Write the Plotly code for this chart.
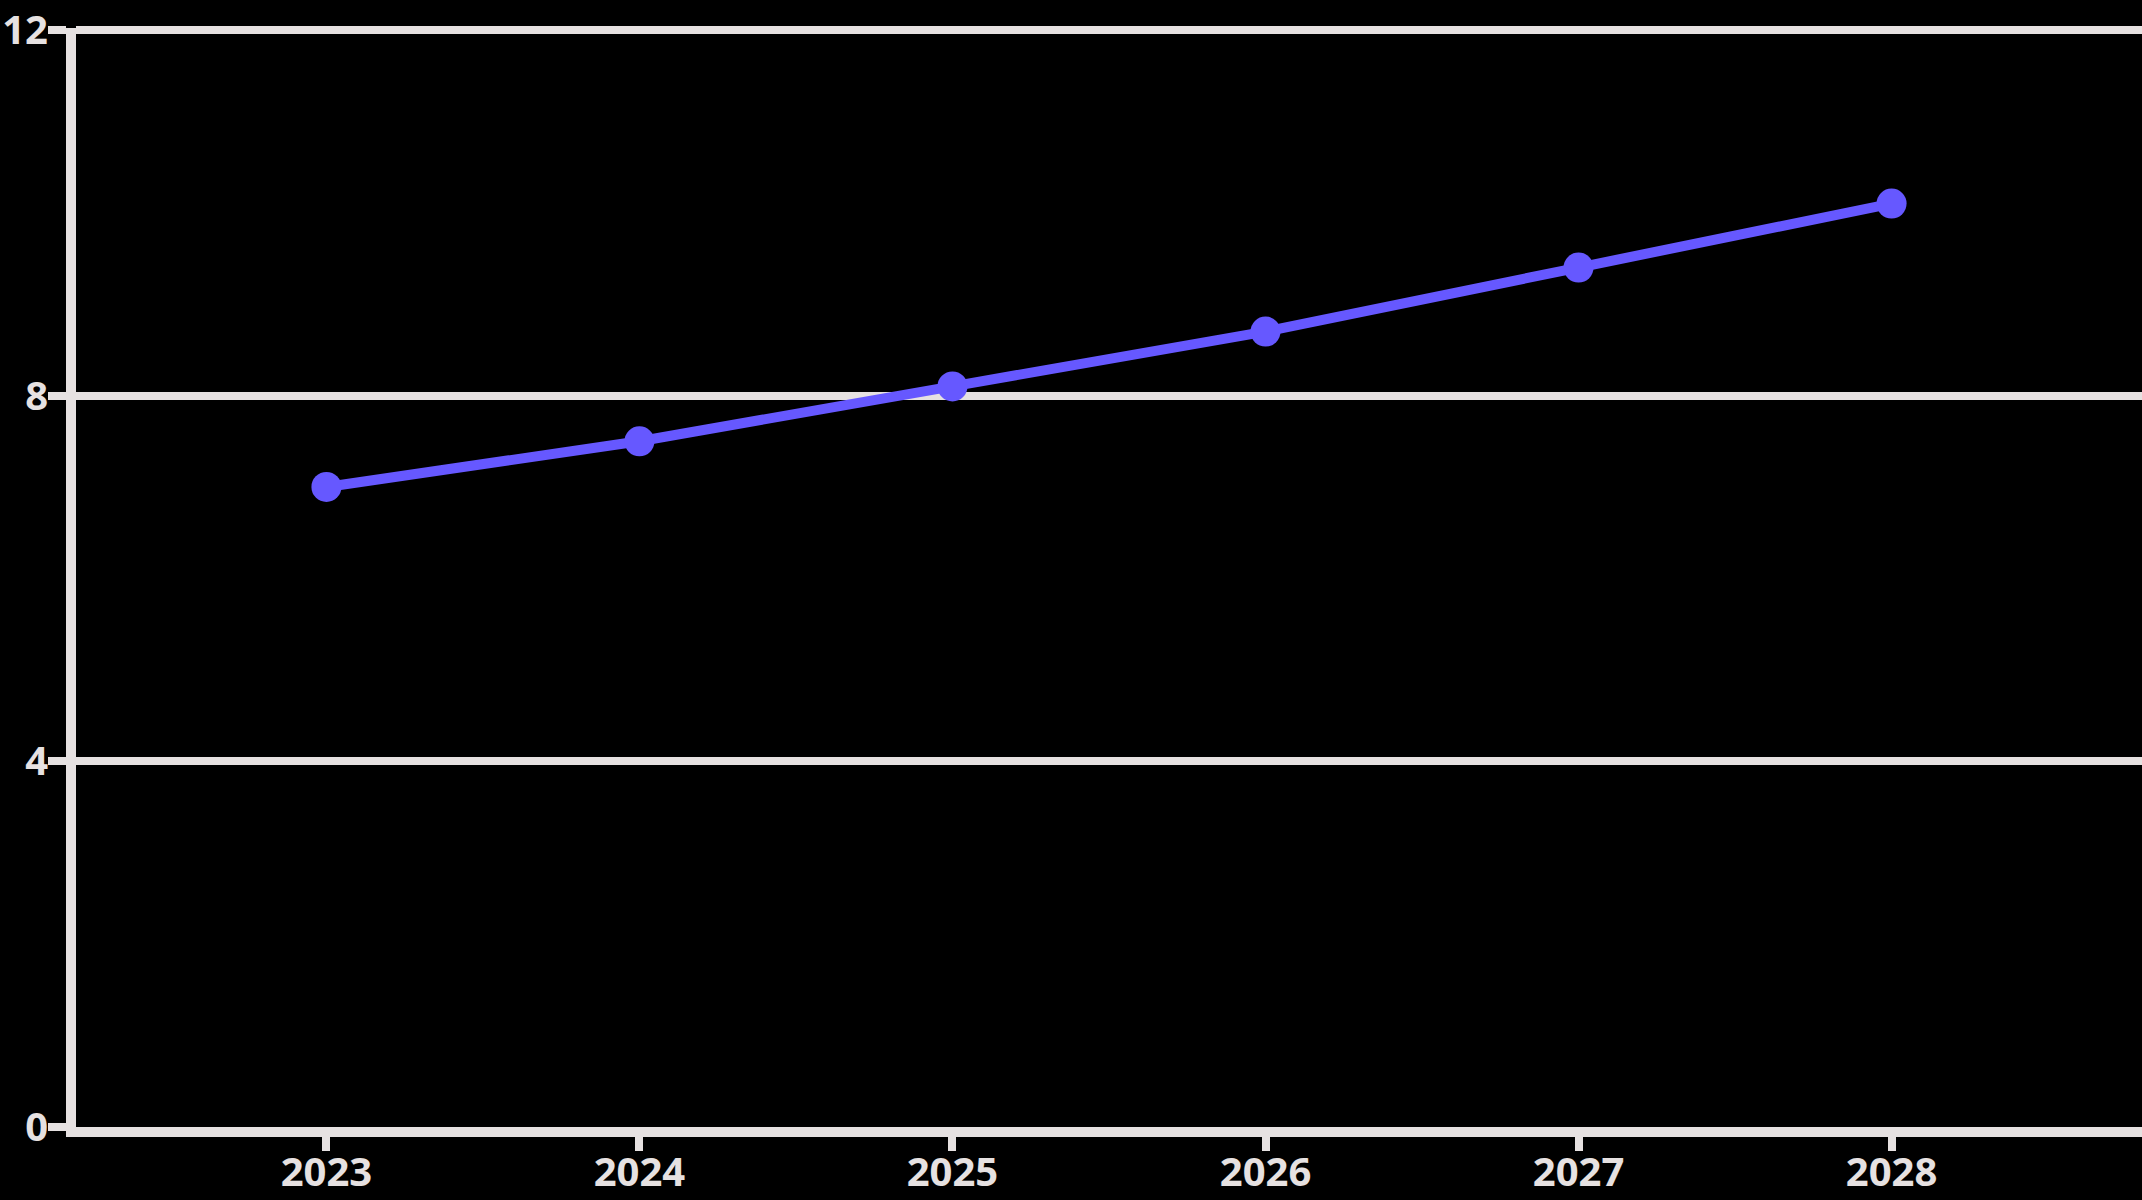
import plotly.graph_objects as go

years = [2023, 2024, 2025, 2026, 2027, 2028]
values = [7.0, 7.5, 8.1, 8.7, 9.4, 10.1]
y_ticks = [0, 4, 8, 12]

axis_color = "#e6e1e1"
line_color = "#6658ff"

fig = go.Figure()
fig.add_trace(go.Scatter(
    x=years, y=values, mode="lines+markers",
    line=dict(color=line_color, width=10),
    marker=dict(color=line_color, size=30),
    showlegend=False,
))

fig.update_layout(
    width=2142, height=1200,
    paper_bgcolor="black", plot_bgcolor="black",
    margin=dict(l=76, r=0, t=28, b=73, autoexpand=False),
    font=dict(family="Open Sans", color=axis_color, size=40, weight="bold"),
)
fig.update_xaxes(
    range=[2022.2, 2028.8], tickvals=years, ticktext=[str(y) for y in years],
    showgrid=False, zeroline=False, automargin=False,
    showline=True, linecolor=axis_color, linewidth=10,
    ticks="outside", ticklen=14, tickwidth=8, tickcolor=axis_color,
    tickfont=dict(size=40, color=axis_color, family="Open Sans", weight="bold"),
    ticklabelstandoff=-13,
)
fig.update_yaxes(
    range=[0, 12.02], tickvals=y_ticks,
    showgrid=True, gridcolor=axis_color, gridwidth=8, zeroline=False, automargin=False,
    showline=True, linecolor=axis_color, linewidth=10,
    ticks="outside", ticklen=18, tickwidth=8, tickcolor=axis_color,
    tickfont=dict(size=40, color=axis_color, family="Open Sans", weight="bold"),
    ticklabelstandoff=-8,
)

fig.write_html(
    "out.html",
    config={"displayModeBar": False},
    post_script="document.body.style.margin='0px';document.body.style.background='black';",
)
